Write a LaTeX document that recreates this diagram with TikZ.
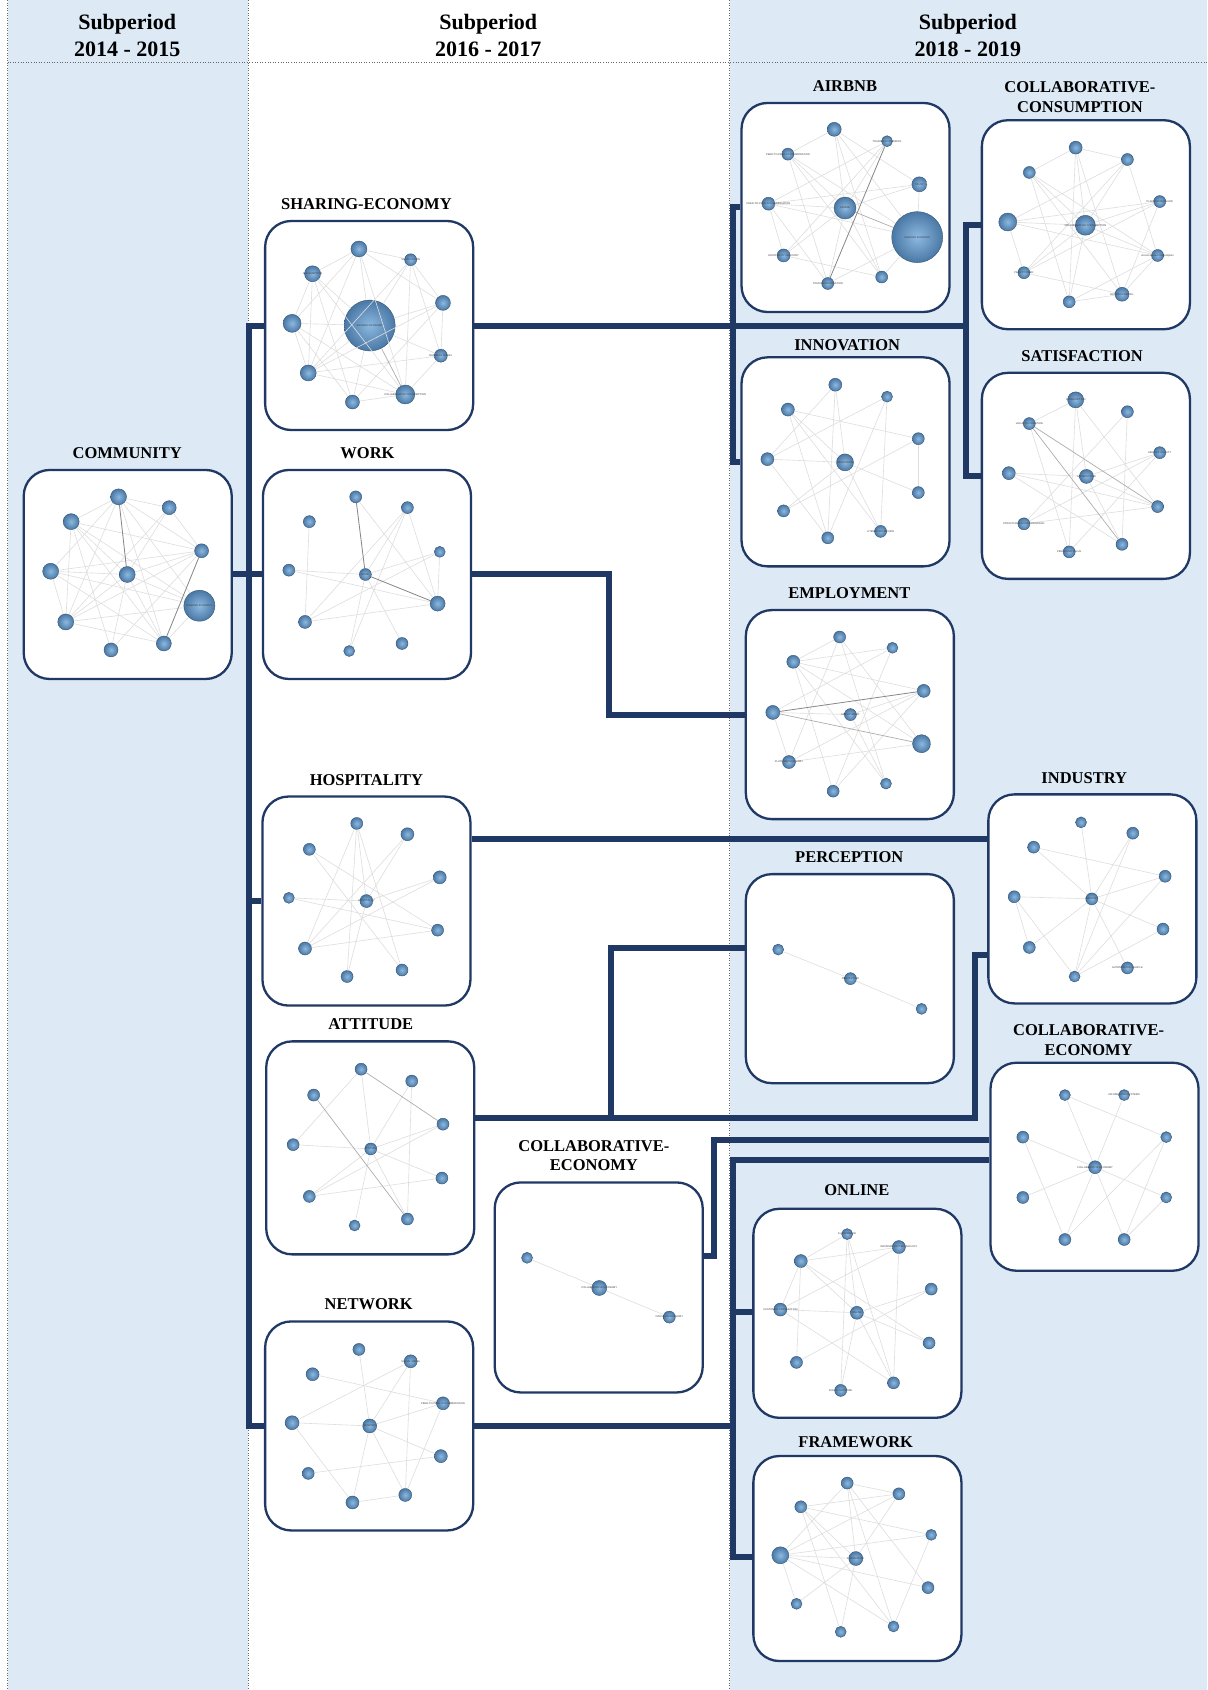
\documentclass[tikz,border=0pt]{standalone}
\usepackage{fontspec}
\setmainfont{Liberation Serif}
\newfontfamily\tinysans{Liberation Sans}
\definecolor{bgblue}{RGB}{221,234,246}
\definecolor{navy}{RGB}{31,56,100}
\definecolor{nodein}{RGB}{140,185,224}
\definecolor{nodeout}{RGB}{74,120,165}
\pgfdeclarelayer{bg}
\pgfsetlayers{bg,main}
\tikzset{
  netbox/.style={draw=navy, line width=2.3pt, fill=white, rounded corners=26pt, inner sep=0pt, minimum width=208pt},
  link/.style={draw=navy, line width=6pt, line join=miter},
  netnode/.style={circle, inner sep=0pt, draw=nodeout!70!black, line width=0.4pt, inner color=nodein, outer color=nodeout},
  ledge/.style={draw=black!13, line width=0.6pt},
  medge/.style={draw=black!32, line width=0.7pt},
  dedge/.style={draw=black!48, line width=0.8pt},
  boxtitle/.style={font=\bfseries\fontsize{16.5}{19.4}\selectfont, align=center, inner sep=0pt},
  hdr/.style={font=\bfseries\fontsize{22}{27}\selectfont, align=center, inner sep=0pt},
  tinytxt/.style={font=\tinysans\fontsize{2.6}{3}\selectfont, text=black!75, inner sep=0pt}
}
\newcommand\nbox[4]{\node[netbox, minimum height=#4pt] (#1) at (#2,#3) {};}
\newcommand\drawnet[3]{%
  \foreach \x/\y/\d [count=\i] in {#2} {\node[netnode, minimum size=\d pt] (#1\i) at (\x,\y) {};}
  \foreach \a/\b in {#3} {\draw[ledge] (#1\a) -- (#1\b);}
}
\newcommand\tl[2]{\node[tinytxt] at (#1) {#2};}
\begin{document}
\begin{tikzpicture}[x=1.0777pt, y=-1.0777pt]
\path[use as bounding box] (0,0) rectangle (1120,1568);

% ---------- boxes ----------
\nbox{community}{118.5}{533}{209}
\nbox{sharing}{342.5}{302}{209}
\nbox{work}{340.5}{533}{209}
\nbox{hosp}{340}{836}{209}
\nbox{attitude}{343.5}{1065}{213}
\nbox{network}{342.5}{1323}{209}
\nbox{cb}{555.5}{1194.5}{210}
\nbox{airbnb}{784.5}{192.5}{209}
\nbox{collabcons}{1007.5}{208.5}{209}
\nbox{innovation}{784.5}{428.5}{209}
\nbox{satisfaction}{1007.5}{441.5}{206}
\nbox{employment}{788.5}{663}{209}
\nbox{industry}{1013.5}{834}{209}
\nbox{perception}{788.5}{908}{209}
\nbox{ce}{1015.5}{1082.5}{208}
\nbox{online}{795.5}{1218.5}{209}
\nbox{framework}{795.5}{1446}{205}

\begin{pgfonlayer}{bg}
\fill[white] (0,0) rectangle (1120,1568);
\fill[bgblue] (7,0) rectangle (230,1568);
\fill[bgblue] (677,0) rectangle (1120,1568);
\draw[black!60, dotted, line width=0.5pt] (7,0) -- (7,1568);
\draw[black!60, dotted, line width=0.5pt] (230,0) -- (230,1568);
\draw[black!60, dotted, line width=0.5pt] (677,0) -- (677,1568);
\draw[black!60, dotted, line width=0.6pt] (7,58) -- (1120,58);

% ---------- connectors ----------
\coordinate (tTop) at (231,302);
\coordinate (tBot) at (231,1323);
\draw[link] (sharing.west) -- (tTop) -- (tBot) -- (network.west);
\draw[link] (community.east) -- (work.west);
\draw[link] (hosp.west) -- (hosp.west -| tTop);
\coordinate (jA) at (680,302);
\coordinate (jB) at (896,302);
\draw[link] (sharing.east) -- (jB);
\draw[link] (airbnb.west) -| (jA) |- (innovation.west);
\draw[link] (collabcons.west) -| (jB) |- (satisfaction.west);
\coordinate (jW) at (565,600);
\draw[link] (work.east) -| (jW) |- (employment.west);
\coordinate (yH) at (0,778);
\draw[link] (hosp.east |- yH) -- (industry.west |- yH);
\coordinate (yA) at (0,1037);
\coordinate (jI) at (905,886);
\coordinate (jP) at (567,880);
\draw[link] (attitude.east |- yA) -- (jI |- yA) -- (jI) -- (industry.west |- jI);
\draw[link] (jP |- yA) -- (jP) -- (perception.west |- jP);
\coordinate (yC) at (0,1165);
\coordinate (jC) at (662,1058);
\draw[link] (cb.east |- yC) -| (jC) -- (ce.west |- jC);
\coordinate (jN1) at (680,1076);
\coordinate (jN2) at (680,1445);
\coordinate (jO) at (680,1217);
\draw[link] (network.east) -- (network.east -| jN1);
\draw[link] (ce.west |- jN1) -- (jN1) -- (jN2) -- (framework.west |- jN2);
\draw[link] (jO) -- (online.west |- jO);
\end{pgfonlayer}

\node[hdr] (h1) at (118,33) {Subperiod\\2014 - 2015};
\node[hdr] (h2) at (453,33) {Subperiod\\2016 - 2017};
\node[hdr] (h3) at (898,33) {Subperiod\\2018 - 2019};

% ---------- titles ----------
\node[boxtitle] (tcommunity) at (118,420) {COMMUNITY};
\node[boxtitle] (tsharing) at (340,189) {SHARING-ECONOMY};
\node[boxtitle] (twork) at (341,420) {WORK};
\node[boxtitle] (thosp) at (340,724) {HOSPITALITY};
\node[boxtitle] (tattitude) at (344,950) {ATTITUDE};
\node[boxtitle] (tnetwork) at (342,1210) {NETWORK};
\node[boxtitle] (tcb) at (551,1072) {COLLABORATIVE-\\ECONOMY};
\node[boxtitle] (tairbnb) at (784,80) {AIRBNB};
\node[boxtitle] (tcollabcons) at (1002,90) {COLLABORATIVE-\\CONSUMPTION};
\node[boxtitle] (tinnovation) at (786,320) {INNOVATION};
\node[boxtitle] (tsatisfaction) at (1004,330) {SATISFACTION};
\node[boxtitle] (temployment) at (788,550) {EMPLOYMENT};
\node[boxtitle] (tindustry) at (1006,722) {INDUSTRY};
\node[boxtitle] (tperception) at (788,795) {PERCEPTION};
\node[boxtitle] (tce) at (1010,965) {COLLABORATIVE-\\ECONOMY};
\node[boxtitle] (tonline) at (795,1104) {ONLINE};
\node[boxtitle] (tframework) at (794,1338) {FRAMEWORK};

% ---------- networks ----------
% COMMUNITY
\drawnet{cm}{110/461/16, 157/471/14, 66/484/16, 187/511/14, 47/530/16, 118/533/16, 185/562/31, 61/577/16, 152/597/15, 103/603/14}
{1/2,1/3,1/4,1/7,1/8,1/9,1/5,3/4,3/6,3/9,3/8,3/7,2/4,2/8,2/6,4/5,4/6,4/8,4/10,5/6,5/7,5/9,5/8,6/7,6/9,6/10,6/8,8/9,8/7,7/9,10/3}
\draw[dedge] (cm1) -- (cm6); \draw[dedge] (cm4) -- (cm9);
\tl{cm7}{SHARING ECONOMY}

% SHARING-ECONOMY
\drawnet{se}{333/231/16, 381/241/12, 290/254/16, 411/281/15, 271/300/18, 343/302/51, 409/330/13, 286/346/16, 376/366/19, 327/373/14}
{6/1,6/2,6/3,6/4,6/5,6/7,6/8,6/10,1/2,1/3,1/4,1/5,1/8,1/9,2/4,2/7,2/9,2/8,3/5,3/9,3/8,3/10,4/7,4/8,4/10,5/8,5/9,5/10,7/9,7/8,8/9,9/10}
\draw[medge] (se6) -- (se9);
\tl{se6}{SHARING ECONOMY} \tl{se9}{COLLABORATIVE CONSUMPTION} \tl{se7}{BUSINESS MODEL} \tl{se2}{SATISFACTION} \tl{se3}{CONSUMPTION}

% WORK
\drawnet{wk}{330/461/12, 378/471/12, 287/484/12, 408/512/11, 268/529/12, 339/533/12, 406/560/15, 283/577/13, 373/597/12, 324/604/11}
{1/7,2/7,2/10,2/8,3/8,5/6,5/7,4/8,4/7,6/9,6/10,8/7,6/2,6/4}
\draw[dedge] (wk1) -- (wk6); \draw[dedge] (wk6) -- (wk7);
\tl{wk6}{WORK}

% HOSPITALITY
\drawnet{hp}{331/764/12, 378/774/13, 287/788/12, 408/814/13, 268/833/11, 340/836/13, 406/863/12, 283/880/13, 373/900/12, 322/906/12}
{1/8,1/9,1/10,3/7,3/9,2/8,2/6,5/6,5/7,8/4,8/7,6/10,6/4,1/6}
\tl{hp6}{HOSPITALITY}

% ATTITUDE
\drawnet{at}{335/992/12, 382/1003/12, 291/1016/12, 411/1043/12, 272/1062/12, 344/1066/12, 410/1093/12, 287/1110/12, 378/1131/12, 329/1137/11}
{1/5,1/6,2/6,2/9,5/6,6/7,6/4,8/7,8/6,10/6,6/9,4/8}
\draw[medge] (at1) -- (at4); \draw[medge] (at3) -- (at9);
\tl{at6}{ATTITUDE}

% NETWORK
\drawnet{nw}{333/1252/12, 381/1263/13, 290/1275/13, 411/1302/13, 271/1320/14, 343/1323/14, 409/1351/13, 286/1367/12, 376/1387/13, 327/1394/13}
{1/6,3/4,2/5,2/6,2/9,5/6,6/4,5/10,6/7,6/10,8/7,10/9,4/9,6/9}
\tl{nw6}{NETWORK} \tl{nw4}{PEER-TO-PEER ACCOMMODATION} \tl{nw2}{SOCIAL MEDIA}

% COLLABORATIVE-ECONOMY (2016-2017)
\drawnet{cb}{489/1167/11, 556/1195/15, 621/1222/12}{1/2,2/3}
\tl{cb2}{COLLABORATIVE ECONOMY} \tl{cb3}{CIRCULAR ECONOMY}

% AIRBNB
\drawnet{ab}{774/120/14, 823/131/11, 731/143/12, 853/171/15, 713/189/13, 784/193/22, 851/220/51, 727/237/13, 818/257/12, 768/263/12}
{1/6,1/9,1/3,1/7,1/4,2/5,2/6,3/6,3/10,3/7,3/9,5/6,5/8,5/10,5/7,5/4,6/8,6/10,6/9,4/7,4/6,8/2,8/9,10/7,9/7}
\draw[dedge] (ab2) -- (ab10); \draw[medge] (ab6) -- (ab7);
\tl{ab7}{SHARING ECONOMY} \tl{ab6}{AIRBNB} \tl{ab2}{TOURISM ECONOMICS} \tl{ab3}{PEER-TO-PEER ACCOMMODATION}
\tl{ab5}{PEER-TO-PEER ACCOMMODATION} \tl{ab8}{HOSPITALITY INDUSTRY} \tl{ab10}{TOURISM DESTINATION} \tl{ab4}{TRUST}

% COLLABORATIVE-CONSUMPTION
\drawnet{cc}{998/137/13, 1046/148/12, 955/160/12, 1076/187/12, 935/206/18, 1007/209/20, 1074/237/12, 950/253/12, 1041/273/14, 992/280/12}
{1/3,1/6,1/9,1/10,1/2,2/5,2/8,2/6,2/7,3/6,3/7,3/9,3/10,4/5,4/6,4/8,4/9,5/6,5/8,5/7,6/7,6/8,6/10,7/10,8/9,9/10,7/9}
\tl{cc6}{COLLABORATIVE CONSUMPTION} \tl{cc7}{Access Based Consumption} \tl{cc4}{PLANNED BEHAVIOR} \tl{cc9}{BUSINESS MODEL} \tl{cc8}{PEER TO PEER}

% INNOVATION
\drawnet{in}{775/357/13, 823/368/11, 731/380/13, 852/407/12, 712/426/13, 784/429/17, 852/457/12, 727/474/12, 817/493/12, 768/499/12}
{1/6,1/10,3/4,3/9,3/10,3/6,5/2,5/6,5/10,2/10,2/9,8/4,8/6,4/7,6/7,6/9,1/5}
\tl{in6}{INNOVATION} \tl{in9}{LITERATURE REVIEW}

% SATISFACTION
\drawnet{sa}{998/371/16, 1046/382/12, 955/393/12, 1076/420/12, 936/439/13, 1008/442/14, 1074/470/12, 950/486/12, 1041/505/12, 992/512/12}
{3/10,6/9,6/7,1/6,1/10,1/3,2/8,2/9,4/10,4/8,5/7,5/6,8/7,6/4,1/7,5/9}
\draw[medge] (sa3) -- (sa7); \draw[medge] (sa3) -- (sa9);
\tl{sa6}{SATISFACTION} \tl{sa3}{VALUE CO-CREATION} \tl{sa4}{SERVICE QUALITY} \tl{sa8}{STRUCTURAL EQUATION MODEL} \tl{sa10}{PERCEIVED VALUE} \tl{sa1}{CONSUMPTION}

% EMPLOYMENT
\drawnet{em}{779/591/12, 828/601/11, 736/614/13, 857/641/13, 717/661/14, 789/663/12, 855/690/18, 732/707/13, 822/727/11, 773/734/12}
{1/8,1/9,1/7,1/3,3/4,3/9,3/10,2/5,2/10,4/8,4/6,4/10,5/6,8/7,5/8,6/9,3/7,2/3}
\draw[dedge] (em5) -- (em4); \draw[medge] (em5) -- (em7);
\tl{em6}{EMPLOYMENT} \tl{em8}{PLATFORM ECONOMY}

% INDUSTRY
\drawnet{id}{1003/763/11, 1051/773/12, 959/786/12, 1081/813/12, 941/832/12, 1013/834/12, 1079/862/12, 955/879/12, 1046/898/12, 997/906/11}
{3/4,3/6,1/6,2/6,2/10,5/6,6/4,6/8,6/9,6/7,5/8,5/10,6/10,10/7,4/10}
\tl{id6}{INDUSTRY} \tl{id9}{AUTONOMOUS VEHICLE}

% PERCEPTION
\drawnet{pc}{722/881/11, 789/908/12, 855/936/11}{1/2,2/3}
\tl{pc2}{PERCEPTION}

% COLLABORATIVE-ECONOMY (2018-2019)
\drawnet{ce}{988/1016/11, 1043/1016/11, 949/1055/12, 1082/1055/11, 1016/1083/13, 949/1111/12, 1082/1111/11, 988/1150/12, 1043/1150/12}
{1/4,1/5,2/5,3/5,3/8,4/8,4/9,5/6,5/7,5/8,5/9,9/7}
\tl{ce5}{COLLABORATIVE ECONOMY} \tl{ce2}{INFORMATION SYSTEMS}

% ONLINE
\drawnet{ol}{786/1145/11, 834/1157/13, 743/1170/13, 864/1196/12, 724/1215/13, 795/1218/13, 862/1246/12, 739/1264/12, 829/1283/12, 780/1290/12}
{1/3,1/6,1/9,1/10,2/3,2/5,2/9,3/5,3/7,3/8,3/6,5/6,5/9,6/4,6/10,6/9,4/8,6/7}
\tl{ol6}{ONLINE} \tl{ol2}{INFORMATION TECHNOLOGY} \tl{ol1}{E-COMMERCE} \tl{ol5}{CUSTOMER SATISFACTION} \tl{ol10}{SOCIAL NETWORK}

% FRAMEWORK
\drawnet{fw}{786/1376/12, 834/1386/12, 743/1398/12, 864/1424/11, 724/1443/17, 794/1446/14, 861/1473/12, 739/1488/11, 829/1509/11, 780/1514/11}
{1/5,1/2,1/6,1/7,1/9,3/2,3/4,3/6,3/9,3/10,5/2,5/6,5/4,5/7,5/8,5/9,6/10,6/8,2/6,4/9}
\tl{fw6}{FRAMEWORK}
\end{tikzpicture}
\end{document}
